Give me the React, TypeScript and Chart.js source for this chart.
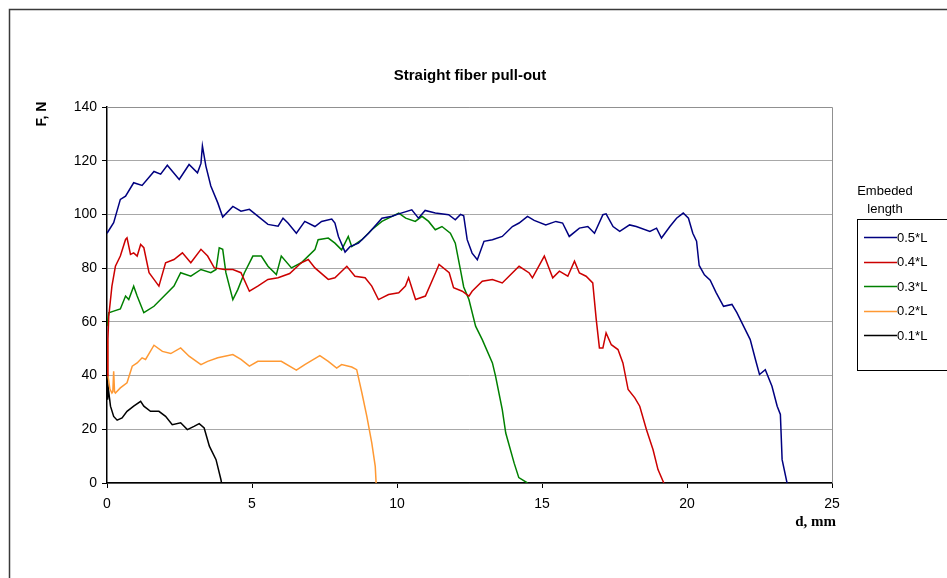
import React, { useEffect, useRef } from "react";
import { Chart, registerables } from "chart.js";

Chart.register(...registerables);

const chartTitle = "Straight fiber pull-out";
const xAxisTitle = "d, mm";
const yAxisTitle = "F, N";
const legendTitle = ["Embeded", "length"];
const seriesLabels = ["0.5*L", "0.4*L", "0.3*L", "0.2*L", "0.1*L"];
const seriesColors = ["#000080", "#CC0000", "#008000", "#FF9933", "#000000"];

const d05 = [0, 0.23, 0.46, 0.64, 0.92, 1.21, 1.62, 1.85, 2.08, 2.49, 2.83, 3.12, 3.24, 3.29, 3.41, 3.58, 3.82, 3.99, 4.34, 4.62, 4.91, 5.2, 5.55, 5.9, 6.07, 6.24, 6.53, 6.82, 7.17, 7.4, 7.75, 7.86, 7.98, 8.21, 8.38, 8.67, 9.02, 9.48, 9.83, 10.06, 10.51, 10.74, 10.97, 11.32, 11.78, 12.01, 12.19, 12.3, 12.42, 12.59, 12.77, 13.0, 13.29, 13.63, 13.98, 14.21, 14.5, 14.73, 15.13, 15.48, 15.71, 15.94, 16.29, 16.58, 16.81, 17.1, 17.21, 17.45, 17.68, 18.02, 18.25, 18.72, 18.95, 19.12, 19.41, 19.64, 19.87, 20.05, 20.2, 20.33, 20.42, 20.6, 20.8, 21.0, 21.26, 21.55, 21.72, 21.95, 22.18, 22.36, 22.5, 22.7, 22.93, 23.11, 23.22, 23.28, 23.45];
const f05 = [93, 96.9, 105.6, 106.8, 111.8, 110.8, 116, 115, 118.3, 113, 118.6, 115.5, 119, 125.5, 118, 110.6, 104.3, 99, 103, 101.2, 101.9, 99.4, 96.3, 95.6, 98.6, 96.8, 93, 97.4, 95.5, 97.4, 98.3, 96.8, 91.8, 86, 88, 89.3, 93, 98.6, 99.3, 100.2, 101.7, 98.6, 101.5, 100.5, 99.9, 98, 100, 99.5, 90.6, 85.6, 83.1, 90, 90.6, 91.8, 95.5, 96.8, 99.3, 97.8, 96.1, 97.4, 96.8, 91.8, 94.9, 95.5, 93, 99.9, 100.2, 95.5, 93.7, 96.1, 95.5, 93.7, 94.9, 91.2, 95.5, 98.6, 100.5, 98.6, 93, 90, 81, 77.5, 75.5, 71, 65.8, 66.5, 63.4, 58.4, 53.4, 46, 40.4, 42.2, 36, 28.6, 25.5, 8.7, 0];

const d04 = [0, 0.03, 0.06, 0.17, 0.29, 0.46, 0.64, 0.69, 0.81, 0.92, 1.04, 1.16, 1.27, 1.45, 1.62, 1.79, 2.02, 2.31, 2.6, 2.89, 3.24, 3.47, 3.7, 4.05, 4.34, 4.62, 4.91, 5.2, 5.55, 5.9, 6.3, 6.7, 6.94, 7.17, 7.63, 7.86, 8.27, 8.55, 8.9, 9.13, 9.36, 9.71, 10.06, 10.29, 10.4, 10.64, 10.98, 11.33, 11.45, 11.8, 11.95, 12.25, 12.48, 12.59, 12.94, 13.29, 13.63, 14.21, 14.56, 14.67, 15.08, 15.37, 15.6, 15.89, 16.12, 16.29, 16.52, 16.75, 16.87, 16.98, 17.1, 17.21, 17.39, 17.62, 17.79, 17.97, 18.2, 18.37, 18.6, 18.83, 19.0, 19.2];
const f04 = [40, 53, 62, 73.3, 80.7, 84.5, 90.7, 91.3, 85.1, 85.7, 84.5, 88.8, 87.6, 78.3, 75.8, 73.3, 82, 83.2, 85.7, 82, 87, 84.5, 80.1, 79.5, 79.5, 78.3, 71.4, 73.3, 75.8, 76.4, 78, 82, 83.2, 80.1, 75.8, 76.4, 80.7, 77, 76.4, 73.3, 68.3, 70.2, 70.8, 73.3, 76.4, 68.3, 69.6, 78.3, 81.4, 78.3, 72.7, 71.4, 69.6, 71.4, 75.1, 75.8, 74.5, 80.7, 78.2, 76.4, 84.5, 76.4, 78.9, 77, 82.6, 78.2, 77, 74.5, 60.9, 50.3, 50.3, 55.9, 51.5, 49.7, 44.7, 34.8, 31.7, 28.6, 19.9, 12.4, 5, 0];

const d03 = [0, 0.06, 0.23, 0.46, 0.64, 0.75, 0.92, 1.04, 1.27, 1.62, 1.97, 2.31, 2.54, 2.89, 3.24, 3.58, 3.76, 3.87, 3.99, 4.1, 4.34, 4.51, 4.74, 5.03, 5.32, 5.55, 5.84, 6.01, 6.36, 6.7, 7.17, 7.28, 7.63, 7.86, 8.09, 8.32, 8.44, 8.79, 9.13, 9.48, 9.83, 10.06, 10.3, 10.63, 10.86, 11.09, 11.32, 11.55, 11.84, 12.01, 12.19, 12.3, 12.48, 12.71, 12.94, 13.29, 13.4, 13.63, 13.75, 14.04, 14.2, 14.5];
const f03 = [58.4, 63.4, 64, 64.8, 69.6, 68.3, 73.3, 69.6, 63.4, 65.8, 69.6, 73.3, 78.3, 77, 79.5, 78.3, 79.5, 87.6, 87, 78.3, 68.3, 72, 78.3, 84.5, 84.5, 80.7, 77.6, 84.5, 80.1, 82, 86.9, 90.6, 91.2, 89.3, 86.8, 91.8, 88, 90.6, 94.3, 97.4, 99.3, 100.5, 98.6, 97.4, 99.3, 97.4, 94.3, 95.5, 93, 89.3, 79.3, 73, 68.3, 58.4, 53.4, 44.7, 39.7, 27.3, 18.6, 7.4, 2, 0];

const d02 = [0, 0.02, 0.1, 0.17, 0.2, 0.23, 0.26, 0.29, 0.46, 0.69, 0.87, 1.04, 1.21, 1.33, 1.62, 1.91, 2.2, 2.54, 2.83, 3.24, 3.47, 3.82, 4.34, 4.62, 4.91, 5.2, 5.55, 6.01, 6.53, 6.82, 7.34, 7.63, 7.92, 8.09, 8.44, 8.61, 8.79, 8.96, 9.13, 9.25, 9.28];
const f02 = [53.4, 41, 35, 33.5, 34, 41.6, 34, 33.5, 35.4, 37.3, 43.5, 44.7, 46.6, 46, 51.3, 49, 48.2, 50.3, 47.2, 44.1, 45.3, 46.6, 47.8, 46, 43.5, 45.3, 45.3, 45.3, 42, 44.1, 47.4, 45.3, 42.8, 44.1, 43.2, 42.2, 33.5, 24.8, 14.9, 6.2, 0];

const d01 = [0, 0.02, 0.05, 0.12, 0.23, 0.35, 0.52, 0.69, 0.92, 1.16, 1.27, 1.5, 1.79, 2.02, 2.25, 2.54, 2.77, 3.0, 3.18, 3.35, 3.53, 3.76, 3.93, 3.95];
const f01 = [39.8, 31, 34.8, 28.6, 24.8, 23.4, 24.2, 26.7, 28.6, 30.4, 28.6, 26.7, 26.7, 24.8, 21.7, 22.4, 19.9, 21.1, 22.1, 20.5, 13.7, 8.7, 1.2, 0];

const xTicks = [0, 5, 10, 15, 20, 25];
const yTicks = [0, 20, 40, 60, 80, 100, 120, 140];

const seriesD = [d05, d04, d03, d02, d01];
const seriesF = [f05, f04, f03, f02, f01];

const SANS = '"Liberation Sans", Arial, sans-serif';
const SERIF = '"Liberation Serif", "Times New Roman", serif';

const decor = {
  id: "decor",
  afterDraw(chart: any) {
    const ctx = chart.ctx as CanvasRenderingContext2D;
    const area = chart.chartArea;
    ctx.save();
    // outer chart border
    ctx.strokeStyle = "#3a3a3a";
    ctx.lineWidth = 1.5;
    ctx.strokeRect(9.5, 9.5, 1200, 1200);
    // plot area border (top, right)
    ctx.strokeStyle = "#909090";
    ctx.lineWidth = 1;
    ctx.beginPath();
    ctx.moveTo(area.left, Math.round(area.top) + 0.5);
    ctx.lineTo(Math.round(area.right) + 0.5, Math.round(area.top) + 0.5);
    ctx.lineTo(Math.round(area.right) + 0.5, area.bottom);
    ctx.stroke();
    // title
    ctx.fillStyle = "#000";
    ctx.textAlign = "center";
    ctx.textBaseline = "middle";
    ctx.font = `bold 15px ${SANS}`;
    ctx.fillText(chartTitle, 470, 76);
    // y axis title
    ctx.save();
    ctx.translate(42, 114);
    ctx.rotate(-Math.PI / 2);
    ctx.font = `bold 14px ${SANS}`;
    ctx.fillText(yAxisTitle, 0, 0);
    ctx.restore();
    // x axis title
    ctx.textAlign = "right";
    ctx.font = `bold 15px ${SERIF}`;
    ctx.fillText(xAxisTitle, 836, 522);
    // legend
    ctx.textAlign = "center";
    ctx.font = `13px ${SANS}`;
    ctx.fillText(legendTitle[0], 885, 191);
    ctx.fillText(legendTitle[1], 885, 209);
    ctx.strokeStyle = "#000";
    ctx.lineWidth = 1;
    ctx.strokeRect(857.5, 219.5, 200, 151);
    ctx.textAlign = "left";
    ctx.font = `13px ${SANS}`;
    chart.data.datasets.forEach((ds: any, i: number) => {
      const y = 237 + i * 24.5;
      ctx.strokeStyle = ds.borderColor;
      ctx.lineWidth = 1.5;
      ctx.beginPath();
      ctx.moveTo(864, Math.round(y) + 0.5);
      ctx.lineTo(897, Math.round(y) + 0.5);
      ctx.stroke();
      ctx.fillStyle = "#000";
      ctx.fillText(ds.label, 897, y + 1);
    });
    ctx.restore();
  },
};

export default function App() {
  const ref = useRef<HTMLCanvasElement>(null);
  useEffect(() => {
    const datasets = seriesLabels.map((label, i) => ({
      label,
      data: seriesD[i].map((d, j) => ({ x: d, y: seriesF[i][j] })),
      borderColor: seriesColors[i],
      backgroundColor: seriesColors[i],
      borderWidth: 1.5,
      pointRadius: 0,
      tension: 0,
      fill: false,
    }));
    const chart = new Chart(ref.current as HTMLCanvasElement, {
      type: "line",
      data: { datasets },
      options: {
        animation: false,
        responsive: false,
        maintainAspectRatio: false,
        layout: { padding: { top: 107, right: 115, bottom: 0, left: 0 } },
        plugins: {
          legend: { display: false },
          title: { display: false },
          tooltip: { enabled: false },
        },
        scales: {
          x: {
            type: "linear",
            min: 0,
            max: 25,
            afterBuildTicks: (s: any) => {
              s.ticks = xTicks.map((v) => ({ value: v }));
            },
            ticks: { color: "#000", padding: 8, font: { family: SANS, size: 14 } },
            grid: { drawOnChartArea: false, tickLength: 5, color: "#000" },
            border: { color: "#000", width: 1.5 },
            afterFit: (s: any) => {
              s.height = 95;
            },
          },
          y: {
            type: "linear",
            min: 0,
            max: 140,
            afterBuildTicks: (s: any) => {
              s.ticks = yTicks.map((v) => ({ value: v }));
            },
            ticks: { color: "#000", padding: 5, font: { family: SANS, size: 14 } },
            grid: { color: "#a8a8a8", tickLength: 5, tickColor: "#000", lineWidth: 1 },
            border: { color: "#000", width: 1.5 },
            afterFit: (s: any) => {
              s.width = 107;
            },
          },
        },
      } as any,
      plugins: [decor],
    });
    return () => chart.destroy();
  }, []);
  return (
    <div style={{ position: "fixed", left: 0, top: 0, width: 947, height: 578, background: "#fff" }}>
      <canvas ref={ref} width={947} height={578} />
    </div>
  );
}
